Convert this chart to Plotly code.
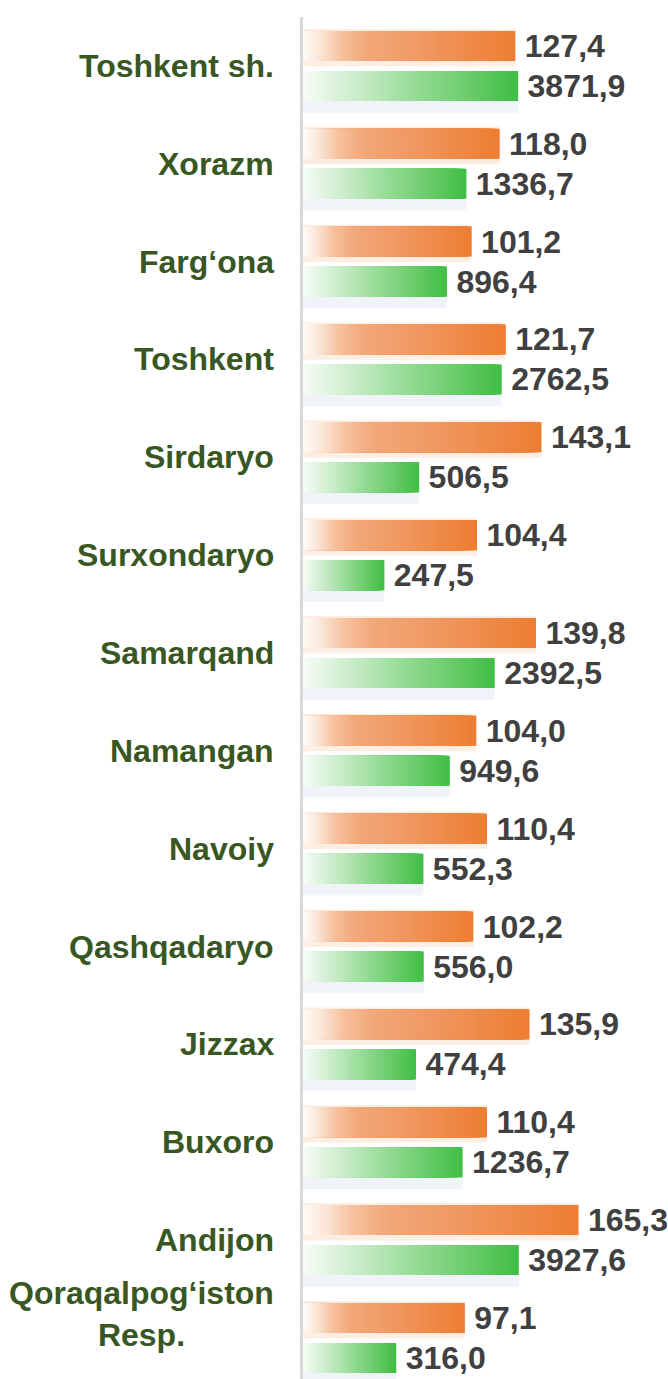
import plotly.graph_objects as go

# Regions (top to bottom) and their two indicators
regions = ["Toshkent sh.", "Xorazm", "Farg‘ona", "Toshkent", "Sirdaryo", "Surxondaryo",
           "Samarqand", "Namangan", "Navoiy", "Qashqadaryo", "Jizzax", "Buxoro",
           "Andijon", "Qoraqalpog‘iston Resp."]
region_labels = ["Toshkent sh.", "Xorazm", "Farg‘ona", "Toshkent", "Sirdaryo", "Surxondaryo",
                 "Samarqand", "Namangan", "Navoiy", "Qashqadaryo", "Jizzax", "Buxoro",
                 "Andijon", "Qoraqalpog‘iston<br>Resp."]
growth_pct = [127.4, 118.0, 101.2, 121.7, 143.1, 104.4, 139.8, 104.0, 110.4, 102.2,
              135.9, 110.4, 165.3, 97.1]
volume = [3871.9, 1336.7, 896.4, 2762.5, 506.5, 247.5, 2392.5, 949.6, 552.3, 556.0,
          474.4, 1236.7, 3927.6, 316.0]

FONT = "Liberation Sans, Arial, sans-serif"
LABEL_GREEN = "#385723"
VALUE_GREY = "#404040"

# colour ramps along each bar (fraction of bar length -> rgb)
ORANGE_RAMP = [(0.00, (255, 251, 248)), (0.08, (251, 230, 215)), (0.18, (246, 193, 158)),
               (0.30, (242, 168, 121)), (0.55, (240, 153, 99)), (1.00, (237, 125, 49))]
GREEN_RAMP = [(0.00, (247, 252, 247)), (0.25, (202, 236, 202)), (0.50, (154, 221, 154)),
              (0.75, (110, 205, 110)), (1.00, (64, 190, 68))]


def ramp_color(ramp, t):
    for (t0, c0), (t1, c1) in zip(ramp[:-1], ramp[1:]):
        if t <= t1:
            u = (t - t0) / (t1 - t0)
            return "rgb({},{},{})".format(*[round(a + (b - a) * u) for a, b in zip(c0, c1)])
    return "rgb({},{},{})".format(*ramp[-1][1])


def fmt(v):
    # thin space keeps the label a little clear of the bar end
    return "\u2009" + f"{v:.1f}".replace(".", ",")


STEPS = 90
ORANGE_MAX = 219                 # linear axis for growth, %
LOG_MIN, LOG_MAX = 1.667, 4.926  # log axis for volume
BAR_W = 0.307
ORANGE_OFF = -0.358
GREEN_OFF = 0.051

fig = go.Figure()

# soft glow around the orange bars
fig.add_bar(y=regions, x=growth_pct, orientation="h", xaxis="x",
            offset=ORANGE_OFF - 0.02, width=BAR_W + 0.075,
            marker=dict(color="rgba(244,177,131,0.22)", line_width=0), hoverinfo="skip")
# soft shadow under the green bars
fig.add_bar(y=regions, x=volume, orientation="h", xaxis="x2",
            offset=GREEN_OFF + BAR_W - 0.01, width=0.13,
            marker=dict(color="rgba(222,230,242,0.45)", line_width=0), hoverinfo="skip")

text_style = dict(family=FONT, size=32, color=VALUE_GREY, weight="bold")

# gradient bars: full bar first, then successively shorter, lighter bars on top
lo = 10 ** LOG_MIN
for k in range(STEPS):
    f = 1 - k / STEPS
    t_mid = f - 0.5 / STEPS
    first = k == 0
    fig.add_bar(
        y=regions, x=[v * f for v in growth_pct], orientation="h", xaxis="x",
        offset=ORANGE_OFF, width=BAR_W,
        marker=dict(color=ramp_color(ORANGE_RAMP, t_mid), line_width=0),
        text=[fmt(v) for v in growth_pct] if first else None,
        textposition="outside" if first else "none", textfont=text_style,
        constraintext="none", cliponaxis=False, hoverinfo="skip",
    )
    fig.add_bar(
        y=regions, x=[lo * (v / lo) ** f for v in volume], orientation="h", xaxis="x2",
        offset=GREEN_OFF, width=BAR_W,
        marker=dict(color=ramp_color(GREEN_RAMP, t_mid), line_width=0),
        text=[fmt(v) for v in volume] if first else None,
        textposition="outside" if first else "none", textfont=text_style,
        constraintext="none", cliponaxis=False, hoverinfo="skip",
    )

# region names on the left
for name, label in zip(regions, region_labels):
    fig.add_annotation(
        x=0, xref="paper", y=name, yref="y", xanchor="right", yanchor="middle",
        xshift=-27, yshift=24 if "<br>" in label else 0,
        text=label, showarrow=False, align="center",
        font=dict(family=FONT, size=32, color=LABEL_GREEN, weight="bold"),
    )

fig.update_layout(
    width=668, height=1379,
    margin=dict(l=303, r=0, t=17, b=0),
    paper_bgcolor="white", plot_bgcolor="white",
    barmode="overlay", showlegend=False,
    xaxis=dict(range=[0, ORANGE_MAX], visible=False, fixedrange=True),
    xaxis2=dict(type="log", range=[LOG_MIN, LOG_MAX], overlaying="x", visible=False,
                fixedrange=True),
    yaxis=dict(categoryorder="array", categoryarray=regions,
               range=[len(regions) - 0.58, -0.5], showticklabels=False, ticks="",
               showgrid=False, zeroline=False, showline=True,
               linecolor="#D9D9D9", linewidth=3, fixedrange=True),
)

fig.write_html("out.html")
